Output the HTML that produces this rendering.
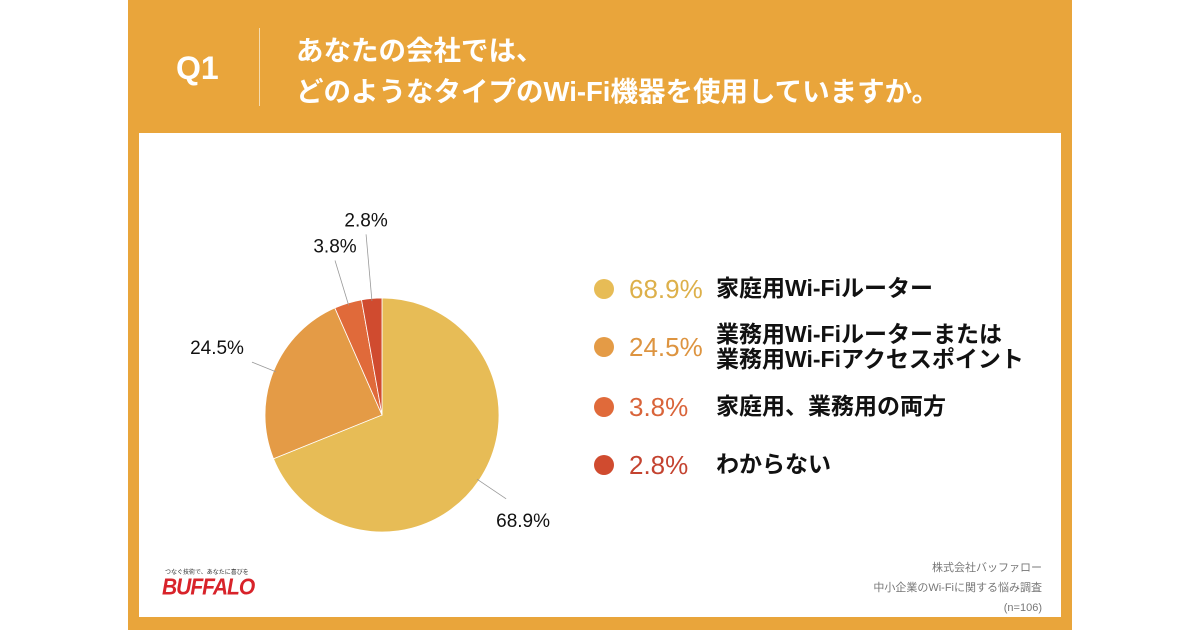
<!DOCTYPE html>
<html><head><meta charset="utf-8"><style>
body{margin:0;width:1200px;height:630px;background:#fff;overflow:hidden;font-family:"Liberation Sans","Noto Sans CJK JP",sans-serif;}
#panel{position:absolute;left:128px;top:0;width:944px;height:630px;background:#E9A53B;}
#card{position:absolute;left:139px;top:133px;width:922px;height:484px;background:#fff;}
.t{position:absolute;color:#fff;font-weight:bold;}
.leg{position:absolute;font-weight:bold;font-size:23px;line-height:25px;}
.foot{position:absolute;right:158px;color:#777;font-size:11px;text-align:right;}
</style></head><body>
<div id="panel"></div>
<div class="t" style="left:176px;top:50px;font-size:32px;">Q1</div>
<div style="position:absolute;left:259px;top:28px;width:1px;height:78px;background:#f6dcae;"></div>
<div class="t" style="left:296px;top:30px;font-size:27.5px;line-height:41px;">あなたの会社では、<br>どのようなタイプのWi-Fi機器を使用していますか。</div>
<div id="card"></div>
<svg id="pie" width="1200" height="630" style="position:absolute;left:0;top:0"></svg>
<div class="leg" id="legend"></div>
<div style="position:absolute;left:165px;top:567px;font-size:6px;color:#333;">つなぐ技術で、あなたに喜びを</div>
<div style="position:absolute;left:162px;top:576px;font-size:21px;color:#d8232a;font-weight:bold;font-style:italic;letter-spacing:-1px;transform:scaleY(1.1);">BUFFALO</div>
<div class="foot" style="top:558px;line-height:20px;">株式会社バッファロー<br>中小企業のWi-Fiに関する悩み調査<br>(n=106)</div>
<script>
const categories=["家庭用Wi-Fiルーター","業務用Wi-Fiルーターまたは<br>業務用Wi-Fiアクセスポイント","家庭用、業務用の両方","わからない"];
const values=[68.9,24.5,3.8,2.8];
const valueLabels=["68.9%","24.5%","3.8%","2.8%"];
const colors=["#E7BC56","#E49B46","#E06A3A","#D04B2F"];
const textColors=["#DDB04A","#DD9440","#D9643A","#C44330"];
const cx=382,cy=415,r=117;
const leaderLen=[1.28,1.2,1.38,1.55];
const NS="http://www.w3.org/2000/svg";
const svg=document.getElementById('pie');
const total=values.reduce((a,b)=>a+b,0);
let acc=0;
function pt(a,rr){return [cx+rr*Math.sin(a),cy-rr*Math.cos(a)];}
values.forEach((v,i)=>{
  const a0=acc/total*2*Math.PI;acc+=v;const a1=acc/total*2*Math.PI;
  const p0=pt(a0,r),p1=pt(a1,r);
  const path=document.createElementNS(NS,'path');
  path.setAttribute('d',`M${cx},${cy}L${p0[0]},${p0[1]}A${r},${r} 0 ${a1-a0>Math.PI?1:0} 1 ${p1[0]},${p1[1]}Z`);
  path.setAttribute('fill',colors[i]);path.setAttribute('stroke','#fff');path.setAttribute('stroke-width','0.8');
  
  
  svg.appendChild(path);
  const am=(a0+a1)/2;const q0=pt(am,r*0.98),q1=pt(am,r*leaderLen[i]);
  const ln=document.createElementNS(NS,'line');
  ln.setAttribute('x1',q0[0]);ln.setAttribute('y1',q0[1]);ln.setAttribute('x2',q1[0]);ln.setAttribute('y2',q1[1]);
  ln.setAttribute('stroke','#999');ln.setAttribute('stroke-width','0.8');
  
  
  svg.appendChild(ln);
  const tx=document.createElementNS(NS,'text');
  const right=Math.sin(am)>0.3,left=Math.sin(am)<-0.5;
  tx.setAttribute('x',right?q1[0]-10:left?q1[0]-8:q1[0]);
  tx.setAttribute('y',right?q1[1]+28:left?q1[1]-8:q1[1]-8);
  tx.setAttribute('text-anchor',right?'start':left?'end':'middle');
  tx.setAttribute('font-size','19');tx.setAttribute('fill','#111');
  tx.setAttribute('font-family','"Liberation Sans",sans-serif');
  tx.textContent=valueLabels[i];
  
  
  svg.appendChild(tx);
});
const legend=document.getElementById('legend');
const rowY=[289,347,407,465];
categories.forEach((c,i)=>{
  const d=document.createElement('div');
  
  
  d.style.cssText=`position:absolute;left:0;top:${rowY[i]}px;`;
  d.innerHTML=`<span style="position:absolute;left:594px;top:-10px;width:20px;height:20px;border-radius:50%;background:${colors[i]}"></span>`+
  `<span style="position:absolute;left:629px;top:-15px;color:${textColors[i]};font-weight:normal;font-size:26px;line-height:30px;white-space:nowrap">${values[i]}%</span>`+
  `<span style="position:absolute;left:716px;top:${i==1?-25:-13}px;color:#111;white-space:nowrap">${c}</span>`;
  legend.appendChild(d);
});
</script>
</body></html>
